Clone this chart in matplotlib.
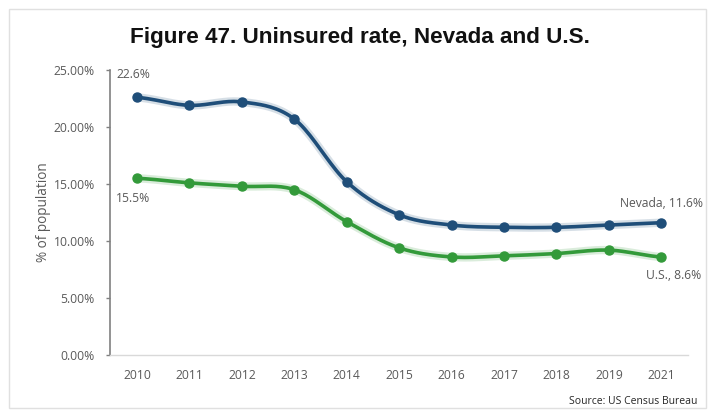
import numpy as np
import matplotlib
matplotlib.use("Agg")
import matplotlib.pyplot as plt
from matplotlib.patches import Rectangle

years = ["2010", "2011", "2012", "2013", "2014", "2015", "2016", "2017", "2018", "2019", "2021"]
nevada = [22.6, 21.9, 22.2, 20.7, 15.2, 12.3, 11.4, 11.2, 11.2, 11.4, 11.6]
us = [15.5, 15.1, 14.8, 14.5, 11.7, 9.4, 8.6, 8.7, 8.9, 9.2, 8.6]
yticks = [0, 5, 10, 15, 20, 25]

NV_COLOR = "#1f4e79"
US_COLOR = "#339a3a"
GRAY = "#595959"
FONT = "Open Sans"


def smooth(y, n=20):
    # Catmull-Rom style smoothing of the plotted line (display only)
    y = np.asarray(y, float)
    x = np.arange(len(y), dtype=float)
    xs, ys = [], []
    for i in range(len(y) - 1):
        p0 = y[i - 1] if i > 0 else y[i]
        p1, p2 = y[i], y[i + 1]
        p3 = y[i + 2] if i + 2 < len(y) else y[i + 1]
        t = np.linspace(0, 1, n, endpoint=False)
        c1 = p1 + (p2 - p0) / 6
        c2 = p2 - (p3 - p1) / 6
        yy = (1 - t) ** 3 * p1 + 3 * (1 - t) ** 2 * t * c1 + 3 * (1 - t) * t ** 2 * c2 + t ** 3 * p2
        xs.extend(x[i] + t)
        ys.extend(yy)
    xs.append(x[-1]); ys.append(y[-1])
    return np.array(xs), np.array(ys)


fig = plt.figure(figsize=(7.11, 4.13), dpi=100)
fig.patch.set_facecolor("white")
fig.patches.append(Rectangle((9 / 711, 5 / 413), 697 / 711, 399 / 413, transform=fig.transFigure,
                             fill=False, edgecolor="#e0e0e0", linewidth=1.0))

ax = fig.add_axes([110 / 711, 58 / 413, 577.5 / 711, 285 / 413])
x = np.arange(len(years))

for vals, col in [(nevada, NV_COLOR), (us, US_COLOR)]:
    sx, sy = smooth(vals)
    ax.plot(sx, sy, color=col, alpha=0.18, linewidth=6, solid_capstyle="round", zorder=2)
    ax.plot(sx, sy, color=col, linewidth=2.6, solid_capstyle="round", zorder=3)
    ax.plot(x, vals, "o", color=col, markersize=6.5, zorder=4)

ax.set_xlim(-0.514, 10.5)
ax.set_ylim(0, 25)
ax.set_yticks(yticks)
ax.set_yticklabels([f"{v:.2f}%" for v in yticks], fontsize=8.7, color=GRAY, family=FONT)
ax.set_xticks(x)
ax.set_xticklabels(years, fontsize=8.7, color=GRAY, family=FONT)
ax.tick_params(axis="y", direction="out", length=3, width=1, color="#808080", pad=8)
ax.tick_params(axis="x", length=0, pad=10)

for s in ["top", "right"]:
    ax.spines[s].set_visible(False)
ax.spines["left"].set_color("#808080")
ax.spines["left"].set_linewidth(1.2)
ax.spines["bottom"].set_color("#d9d9d9")
ax.spines["bottom"].set_linewidth(1.0)

ax.set_ylabel("% of population", fontsize=9.8, color=GRAY, family=FONT, labelpad=2)

ax.annotate(f"{nevada[0]:.1f}%", (x[0], nevada[0]), xytext=(-15, 12), textcoords="offset points",
            fontsize=8.7, color=GRAY, family=FONT, ha="left", va="bottom")
ax.annotate(f"{us[0]:.1f}%", (x[0], us[0]), xytext=(-15, -10), textcoords="offset points",
            fontsize=8.7, color=GRAY, family=FONT, ha="left", va="top")
ax.annotate(f"Nevada, {nevada[-1]:.1f}%", (x[-1], nevada[-1]), xytext=(30, 9), textcoords="offset points",
            fontsize=8.7, color=GRAY, family=FONT, ha="right", va="bottom")
ax.annotate(f"U.S., {us[-1]:.1f}%", (x[-1], us[-1]), xytext=(29, -9), textcoords="offset points",
            fontsize=8.7, color=GRAY, family=FONT, ha="right", va="top")

fig.text(360 / 711, 1 - 37 / 413, "Figure 47. Uninsured rate, Nevada and U.S.", fontsize=16.2,
         fontweight="bold", family="Liberation Sans", ha="center", va="center", color="#111111")
fig.text(697 / 711, 1 - 401 / 413, "Source: US Census Bureau", fontsize=7.5, family=FONT,
         ha="right", va="center", color="#262626")

fig.savefig("out.png", dpi=100, facecolor="white")
